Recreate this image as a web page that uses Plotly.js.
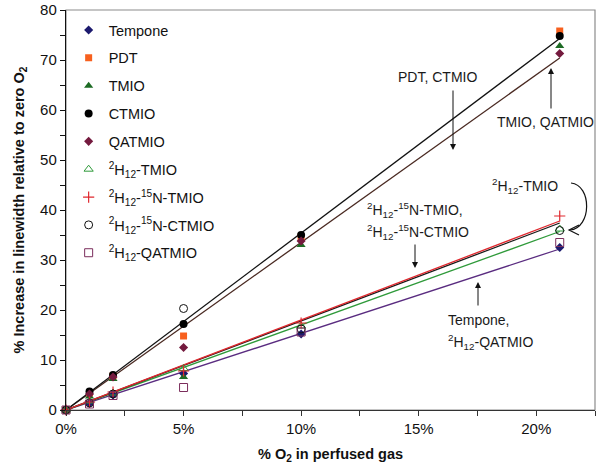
<!DOCTYPE html>
<html>
<head>
<meta charset="utf-8">
<script src="https://cdn.plot.ly/plotly-3.0.1.min.js"></script>
<style>html,body{margin:0;padding:0;background:#fff}#chart{width:600px;height:472px}</style>
</head>
<body>
<div id="chart"></div>
<script>
// ---- data ----
const o2 = [0, 1, 2, 5, 10, 21];
const tempone      = [0, 1.3, 3.0, 7.3, 15.2, 32.5];
const pdt          = [0, 3.4, 6.8, 14.8, 34.6, 75.8];
const tmio         = [0, 2.7, 6.2, 6.6, 33.0, 72.8];
const ctmio        = [0, 3.7, 7.0, 17.2, 35.0, 74.8];
const qatmio       = [0, 3.2, 6.6, 12.5, 33.8, 71.3];
const h12Tmio      = [0, 1.8, 3.4, 8.3, 16.8, 36.2];
const h12n15Tmio   = [0, 1.6, 3.6, 7.8, 17.4, 38.8];
const h12n15Ctmio  = [0, 1.4, 3.2, 20.3, 16.2, 35.9];
const h12Qatmio    = [0, 1.2, 2.9, 4.5, 15.6, 33.5];

// linear fit lines (end points)
const fitX = [0, 21];
const fitPdtCtmio   = [0, 74.3];
const fitTmioQatmio = [0, 70.4];
const fitN15Tmio    = [0, 37.8];
const fitN15Ctmio   = [0, 37.4];
const fitH12Tmio    = [0, 35.7];
const fitTemponeQat = [0, 32.2];

const seriesNames = ['Tempone','PDT','TMIO','CTMIO','QATMIO',
  '<sup>2</sup>H<sub>12</sub>-TMIO',
  '<sup>2</sup>H<sub>12</sub>-<sup>15</sup>N-TMIO',
  '<sup>2</sup>H<sub>12</sub>-<sup>15</sup>N-CTMIO',
  '<sup>2</sup>H<sub>12</sub>-QATMIO'];

// ---- geometry helpers (decoration only) ----
const L = 66, R = 595, T = 10, B = 410, XMAX = 22.5, YMAX = 80;
const px = p => (p - L) / (R - L) * XMAX;
const py = p => (B - p) / (B - T) * YMAX;

const font = {family: 'Liberation Sans, Arial, sans-serif', size: 14, color: '#1a1a1a'};

function fitLine(y, color) {
  return {x: fitX, y: y, mode: 'lines', showlegend: false, hoverinfo: 'skip',
          line: {color: color, width: 1.3}};
}
function pts(y, name, symbol, color, size, lw) {
  return {x: o2, y: y, name: name, mode: 'markers', cliponaxis: false,
          legendgroup: name,
          marker: {symbol: symbol, color: color, size: size,
                   line: {color: color, width: lw || 0}}};
}

const traces = [
  fitLine(fitTmioQatmio, '#4a2a22'),
  fitLine(fitPdtCtmio, '#111111'),
  fitLine(fitTemponeQat, '#5a2c80'),
  fitLine(fitH12Tmio, '#2f9a3a'),
  fitLine(fitN15Ctmio, '#1a1a1a'),
  fitLine(fitN15Tmio, '#e0282e'),
  pts(tempone, seriesNames[0], 'diamond', '#1c1a6e', 7),
  pts(pdt, seriesNames[1], 'square', '#f7601e', 7),
  pts(tmio, seriesNames[2], 'triangle-up', '#1d6b24', 8),
  pts(ctmio, seriesNames[3], 'circle', '#000000', 8),
  pts(qatmio, seriesNames[4], 'diamond', '#741a3e', 7),
  pts(h12Tmio, seriesNames[5], 'triangle-up-open', '#2f9a3a', 8, 1),
  pts(h12n15Tmio, seriesNames[6], 'cross-thin-open', '#e0282e', 8, 1.2),
  pts(h12n15Ctmio, seriesNames[7], 'circle-open', '#111111', 8, 1),
  pts(h12Qatmio, seriesNames[8], 'square-open', '#7b2d5c', 8, 1)
];

function arrow(x0, y0, x1, y1) {
  return {x: px(x1), y: py(y1), ax: px(x0), ay: py(y0), xref: 'x', yref: 'y',
          axref: 'x', ayref: 'y', text: '', showarrow: true,
          arrowhead: 2, arrowsize: 1.2, arrowwidth: 1, arrowcolor: '#111'};
}
function label(x, y, text, align) {
  return {x: px(x), y: py(y), xref: 'x', yref: 'y', text: text, showarrow: false,
          font: font, align: align || 'center',
          xanchor: align === 'left' ? 'left' : 'center'};
}

const annotations = [
  label(437, 77, 'PDT, CTMIO'),
  arrow(453, 89, 453, 150),
  label(545, 122, 'TMIO, QATMIO'),
  arrow(551, 110, 551, 68),
  label(525, 186, '<sup>2</sup>H<sub>12</sub>-TMIO'),
  label(365, 210, '<sup>2</sup>H<sub>12</sub>-<sup>15</sup>N-TMIO,', 'left'),
  label(365, 232, '<sup>2</sup>H<sub>12</sub>-<sup>15</sup>N-CTMIO', 'left'),
  arrow(415, 243, 415, 268),
  arrow(478, 307, 478, 282),
  label(478, 320, 'Tempone,'),
  label(490, 342, '<sup>2</sup>H<sub>12</sub>-QATMIO')
];

const shapes = [
  {type: 'rect', xref: 'paper', yref: 'paper', x0: 0, x1: 1, y0: 0, y1: 1,
   line: {color: '#8c8c8c', width: 1.2}, layer: 'below'},
  {type: 'path', xref: 'x', yref: 'y', line: {color: '#111', width: 1.2},
   path: 'M ' + px(571) + ',' + py(183) + ' C ' + px(592) + ',' + py(185) + ' ' +
         px(592) + ',' + py(228) + ' ' + px(570) + ',' + py(230)},
  {type: 'path', xref: 'x', yref: 'y', line: {color: '#111', width: 1.2},
   path: 'M ' + px(579) + ',' + py(225) + ' L ' + px(569) + ',' + py(230) + ' L ' +
         px(579) + ',' + py(235)}
];

const layout = {
  width: 600, height: 472,
  margin: {l: L, r: 600 - R, t: T, b: 472 - B},
  paper_bgcolor: '#fff', plot_bgcolor: '#fff',
  font: font,
  showlegend: true,
  legend: {x: 0.005, y: 0.99, xanchor: 'left', yanchor: 'top', bgcolor: 'rgba(0,0,0,0)',
           font: {family: 'Liberation Sans, Arial, sans-serif', size: 14.5, color: '#111'},
           tracegroupgap: 6, itemwidth: 30},
  xaxis: {range: [0, XMAX], tickvals: [0, 5, 10, 15, 20], ticktext: ['0%','5%','10%','15%','20%'],
          ticks: 'outside', ticklen: 5, tickcolor: '#333', showgrid: false, zeroline: false,
          showline: true, linecolor: '#333', linewidth: 1.2,
          minor: {tickvals: [2.5, 7.5, 12.5, 17.5, 22.5], ticks: 'outside', ticklen: 5, tickcolor: '#333'},
          tickfont: {family: 'Liberation Sans, Arial, sans-serif', size: 15, color: '#111'},
          title: {text: '<b>% O<sub>2</sub> in perfused gas</b>', standoff: 12,
                  font: {family: 'Liberation Sans, Arial, sans-serif', size: 14.5, color: '#111'}}},
  yaxis: {range: [0, YMAX], dtick: 10, ticks: 'outside', ticklen: 5, tickcolor: '#111',
          showgrid: false, zeroline: false, showline: true, linecolor: '#111', linewidth: 1.2,
          minor: {dtick: 5, ticks: 'outside', ticklen: 5, tickcolor: '#111'},
          tickfont: {family: 'Liberation Sans, Arial, sans-serif', size: 15, color: '#111'},
          title: {text: '<b>% Increase in linewidth relative to zero O<sub>2</sub></b>', standoff: 12,
                  font: {family: 'Liberation Sans, Arial, sans-serif', size: 14.5, color: '#111'}}},
  annotations: annotations,
  shapes: shapes
};

Plotly.newPlot('chart', traces, layout, {displayModeBar: false, staticPlot: true});
</script>
</body>
</html>
